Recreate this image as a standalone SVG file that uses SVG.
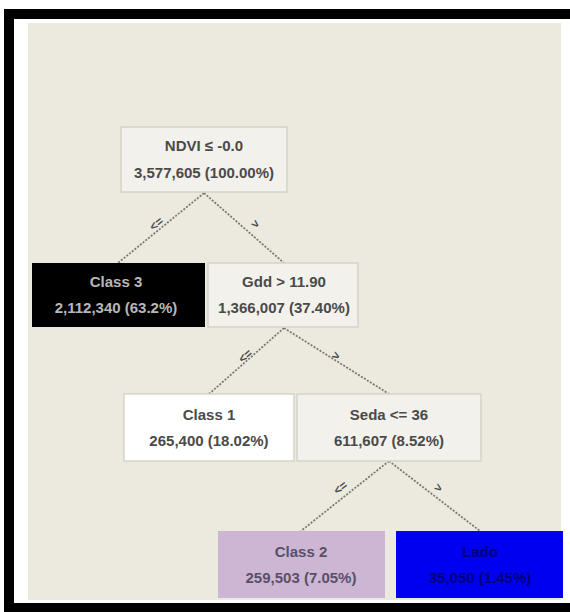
<svg xmlns="http://www.w3.org/2000/svg" width="570" height="612" viewBox="0 0 570 612">
<style>
.box{stroke:#d6d3c8;stroke-width:1.5}
.t{font-family:"Liberation Sans",Arial,sans-serif;font-size:15px;font-weight:bold;text-anchor:middle;fill:#4a4a4a}
.lbl{font-family:"Liberation Sans",Arial,sans-serif;font-size:12px;font-weight:bold;text-anchor:middle;fill:#4a4a4a}
.edge{stroke:#7a7a70;stroke-width:1.8;stroke-dasharray:2 1.5;fill:none}
</style>
<rect x="0" y="0" width="570" height="612" fill="#ffffff"/>
<rect x="9" y="14" width="570" height="594" fill="none" stroke="#000" stroke-width="10"/>
<rect x="28" y="23" width="533" height="577" fill="#ECEADF"/>
<g id="connectors">
<line class="edge" x1="204" y1="193" x2="118" y2="263"/>
<line class="edge" x1="204" y1="193" x2="284" y2="263"/>
<line class="edge" x1="284" y1="328" x2="209" y2="394"/>
<line class="edge" x1="284" y1="328" x2="389" y2="394"/>
<line class="edge" x1="389" y1="461" x2="301" y2="531"/>
<line class="edge" x1="389" y1="461" x2="480" y2="531"/>
<text class="lbl" transform="translate(159,227) rotate(-39)">&lt;=</text>
<text class="lbl" transform="translate(253,227) rotate(41)">&gt;</text>
<text class="lbl" transform="translate(248,359) rotate(-41)">&lt;=</text>
<text class="lbl" transform="translate(334,359) rotate(32)">&gt;</text>
<text class="lbl" transform="translate(343,491) rotate(-38)">&lt;=</text>
<text class="lbl" transform="translate(436,491) rotate(37)">&gt;</text>
</g>
<g id="root">
<rect class="box" x="121" y="127" width="166" height="65" fill="#F3F1EB"/>
<text class="t" x="204" y="151">NDVI ≤ -0.0</text>
<text class="t" x="204" y="178">3,577,605 (100.00%)</text>
</g>
<g id="class3">
<rect x="32" y="263" width="173" height="64" fill="#000"/>
<text class="t" x="116" y="287" style="fill:#b8b8b8">Class 3</text>
<text class="t" x="116" y="313" style="fill:#b8b8b8">2,112,340 (63.2%)</text>
</g>
<g id="gdd">
<rect class="box" x="208" y="263" width="150" height="64" fill="#F3F1EB"/>
<text class="t" x="284" y="287">Gdd &gt; 11.90</text>
<text class="t" x="284" y="313">1,366,007 (37.40%)</text>
</g>
<g id="class1">
<rect class="box" x="124" y="394" width="170" height="67" fill="#ffffff"/>
<text class="t" x="209" y="420">Class 1</text>
<text class="t" x="209" y="446">265,400 (18.02%)</text>
</g>
<g id="seda">
<rect class="box" x="297" y="394" width="184" height="67" fill="#F3F1EB"/>
<text class="t" x="389" y="420">Seda &lt;= 36</text>
<text class="t" x="389" y="446">611,607 (8.52%)</text>
</g>
<g id="class2">
<rect x="218" y="531" width="167" height="67" fill="#CDB6D3"/>
<text class="t" x="301" y="557" style="fill:#5a5066">Class 2</text>
<text class="t" x="301" y="583" style="fill:#5a5066">259,503 (7.05%)</text>
</g>
<g id="lado">
<rect x="396" y="531" width="167" height="67" fill="#0000F0"/>
<text class="t" x="480" y="557" style="fill:#00007a">Lado</text>
<text class="t" x="480" y="583" style="fill:#00007a">35,050 (1.45%)</text>
</g>
</svg>
